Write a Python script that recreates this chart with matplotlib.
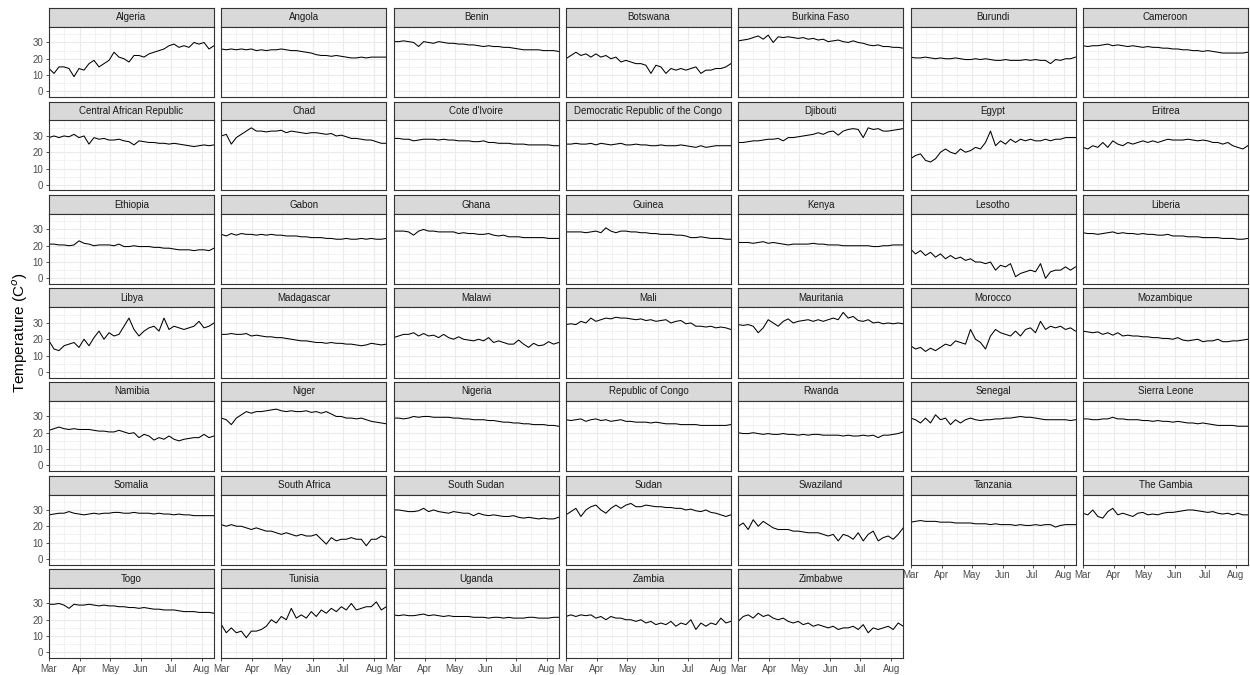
import matplotlib
matplotlib.use("Agg")
import matplotlib.pyplot as plt
import matplotlib.dates as mdates
import numpy as np
import pandas as pd

# mean temperature per country, one reading every 5 days from 1 March
algeria = [14,11,15,15,14,9,14,13,17,19,15,17,19,24,21,20,18,22,22,21,23,24,25,26,28,29,27,28,27,30,29,30,26,28]
angola = [26,25.5,26,25.5,26,25.5,26,25,25.5,25,25.5,25.5,26,25.5,25,25,24.5,24,23.5,22.5,22,22,21.5,22,21.5,21,20.5,20.5,21,20.5,21,21,21,21]
benin = [30.5,30.5,31,30.5,30,27.5,30.5,30,29.5,30.5,30,29.5,29.5,29,29,28.5,28.5,28,27.5,28,27.5,27.5,27,27,26.5,26,25.5,25.5,25.5,25.5,25,25,25,24.5]
botswana = [20,22,24,22,23,21,23,21,22,20,21,18,19,18,17,17,16,11,16,15,11,14,13,14,13,14,15,11,13,13,14,14,15,17]
burkina_faso = [31,31.5,32,33,34,32,34.5,30,33.5,33,33.5,33,32.5,33,32,32.5,31.5,32,30.5,31,31.5,30.5,30,31,30,29.5,28.5,28,28.5,27.5,27.5,27,27,26.5]
burundi = [21,20.5,20.5,21,20.5,20,20.5,20,20,20.5,20,19.5,19.5,20,19.5,20,19.5,19,19,19.5,19,19,19,19.5,19,19.5,19,19,17,19.5,19,20,20,21]
cameroon = [28,27.5,28,28,28.5,29,28,28.5,28,27.5,28,27.5,27,27.5,27,27,26.5,26.5,26,26,25.5,25.5,25,25,24.5,25,24.5,24,23.5,23.5,23.5,23.5,23.5,24]
central_african_republic = [29,30,29,30,29.5,31,29,30,25,29,28,28.5,27.5,27.5,28,27,26.5,24.5,27,26.5,26,26,25.5,25.5,25,25.5,25,24.5,24,23.5,24,24.5,24,24.5]
chad = [30,31,25,29,31,33,35,33,33,32.5,33,33,33.5,32,33,32.5,32,31.5,32,32,31.5,31,31.5,30,30.5,29.5,28.5,28.5,28,27.5,27.5,26.5,25.5,25.5]
cote_divoire = [28.5,28.5,28,28,27,27.5,28,28,28,27.5,28,27.5,27.5,27,27,27,26.5,26.5,27,26,26,25.5,25.5,25.5,25,25,25,24.5,24.5,24.5,24.5,24.5,24,24]
dr_congo = [25,25,25.5,25,25,25.5,24.5,25.5,25,24.5,25,25.5,24.5,24.5,25,24.5,24.5,24,24,24.5,24,24,24,24.5,24,23.5,23,24,23,23.5,24,24,24,24]
djibouti = [26,26,26.5,27,27,27.5,28,28,28.5,27,29,29,29.5,30,30.5,31,32,31,32.5,33,30.5,33,34,34.5,34,29,35,34,34.5,33,33,33.5,34,34.5]
egypt = [16,18,19,15,14,16,20,22,20,19,22,20,21,23,22,26,33,24,27,25,28,26,28,27,28,27,27,28,27,28,28,29,29,29]
eritrea = [23,22,24,23,26,23,27,25,24,26,25,26,27,26,27,26,27,28,27.5,27.5,27.5,28,27.5,27,27.5,27,26,26,25,26,24,23,22,24]
ethiopia = [21,21,20.5,20.5,20,20.5,23,21.5,21,20,20.5,20.5,20.5,20,21,19.5,19.5,20,19.5,19.5,19.5,19,19,18.5,18.5,18,17.5,17.5,17.5,17,17.5,17.5,17,18.5]
gabon = [27,26,27.5,26.5,27.5,27,27,26.5,27,26.5,27,26.5,26.5,26,26,26,25.5,25.5,25,25,25,24.5,24.5,24,24,24.5,24,24,24.5,24,24.5,24,24,24.5]
ghana = [29,29,29,28.5,26.5,29,30,29,29,28.5,28.5,28.5,28.5,27.5,28,27.5,27.5,27,27,27.5,26.5,26,26.5,25.5,25.5,25.5,25,25,25,25,25,24.5,24.5,24.5]
guinea = [28.5,28.5,28.5,28.5,28,28.5,29,28,31,29,28,29,29,28.5,28.5,28,28,27.5,27.5,27,27,27,26.5,26.5,26,25,25,25.5,25,24.5,24.5,24.5,24,24]
kenya = [22,22,22,21.5,22,22.5,21.5,22,21.5,21,20.5,21,21,21,21,21.5,21,21,20.5,20.5,20.5,20,20,20,20,20,20,19.5,19.5,20,20,20.5,20.5,20.5]
lesotho = [18,15,17,14,16,13,15,12,14,12,13,11,12,10,10,9,10,5,8,7,9,1,3,4,5,4,9,0,4,5,5,7,5,7]
liberia = [28,27.5,27.5,27,27.5,28,28.5,27.5,28,27.5,27.5,27,27.5,27,27,26.5,26.5,27,26,26,26,25.5,25.5,25.5,25,25,25,25,24.5,24.5,24.5,24,24,24.5]
libya = [19,14,13,16,17,18,15,20,16,21,25,20,24,22,23,28,33,26,22,25,27,28,25,33,26,28,27,26,27,28,31,27,28,30]
madagascar = [23,23,23.5,23,23,23.5,22,22.5,22,21.5,21.5,21,21,20.5,20,19.5,19,19,18.5,18,18,17.5,18,17.5,17.5,17,17,16.5,16,16.5,17.5,17,16.5,17]
malawi = [21,22,23,23,24,22,23.5,22,22.5,21,23,21,20,21.5,20,19.5,19,20,19,21,18,19,18,17,17,19.5,17,15,17.5,16,16.5,18.5,17,18]
mali = [29,29.5,29,31,30,33,31,32,33,32.5,33.5,33,33,32.5,32,32.5,31.5,32,31,31.5,32,30,31,31.5,29.5,30,28,28,27.5,28,27,27.5,27,26]
mauritania = [29,28.5,29,28,24,27,32,30,28,31,32.5,30,31,31.5,32,31,32,31,32,33,32,36.5,33,34,31.5,31,32,30,30.5,29.5,30,29.5,30,29.5]
morocco = [16,14,15,12.5,14.5,13,15,17,16,19,18,17,26,20,18,14,22,26,24,23,22,25,22,26,27,24,31,26,28,27,28,26,27,25]
mozambique = [25,24.5,24,24.5,23,24,22.5,24,22,22.5,22,22,21.5,21.5,21,21,20.5,20.5,20,21,19.5,19,19.5,20,18.5,19,19,20,18.5,18.5,19,19,19.5,20]
namibia = [21.5,22.5,23.5,22.5,22,22.5,22,22,22,21.5,21,21,20.5,20.5,21.5,20.5,19.5,20,17,19,18,15.5,17,16,18,16,15,16,16.5,17,17,19,17,18]
niger = [29,28,25,29,31,33,32,33,33,33.5,34,34.5,33.5,33,33.5,33,33,33.5,32.5,33,32,33,31.5,30,30,29,29,28.5,29,28,27,26.5,26,25.5]
nigeria = [29,29,28.5,29,30,29.5,30,30,29.5,29.5,29.5,29.5,29,29,28.5,28.5,28,28,28,27.5,27.5,27,26.5,26.5,26,26,25.5,25.5,25,25,25,24.5,24.5,24]
rep_congo = [28,27.5,28,28.5,27,28,28.5,27.5,28,27,27.5,28,27,27,26.5,26.5,26.5,26,26.5,26,25.5,25.5,25.5,25,25,25,25,24.5,24.5,24.5,24.5,24.5,24.5,25]
rwanda = [20,19.5,19.5,20,19.5,19,19.5,19,19,19.5,19,19,18.5,19,18.5,19,19,18.5,18.5,18.5,18.5,18,18.5,18,18,18.5,18,18.5,17,18.5,18.5,19,19.5,20.5]
senegal = [29,28,26,29,26,31,28,29,25,28,26,28,29,28,27.5,28,28,28.5,28.5,29,29,29.5,30,29.5,29.5,29,28.5,28,28,28,28,28,27.5,28]
sierra_leone = [28.5,28.5,28,28,28.5,28.5,29.5,28.5,28.5,28,28,28,27.5,27.5,27,27.5,27,27,26.5,27,26.5,26,26,25.5,26,25.5,25,24.5,24.5,24.5,24.5,24,24,24]
somalia = [27,27.5,28,28,29,28,27.5,27,27.5,28,27.5,28,28,28.5,28.5,28,28,28.5,28,28,28,27.5,28,27.5,27.5,27,27.5,27,27,26.5,26.5,26.5,26.5,26.5]
south_africa = [21,20,21,20,20,19,18,19,18,17,17,16,15,16,15,14,15,14,14,15,12,9,13,11,12,12,13,12,12,8,12,12,14,13]
south_sudan = [30,30,29.5,29,29,29.5,31,29,30,29,28.5,28,29,28.5,28,28,26.5,28,27,26.5,27,26.5,26,26,26.5,25.5,25,25.5,25,24.5,25,24.5,24.5,25.5]
sudan = [27,29,31,26,30,32,33,30,28,31,33,31,33,34,32,32,33,32.5,32,32,31.5,31.5,31,31,30,30.5,29.5,29,30,28.5,28,27,26,27]
swaziland = [20,22,18,24,20,23,21,19,18,18,18,17,17,16.5,16,16,16,15,14,15,11,15,14,12,16,11,15,17,11,13,14,12,15,19]
tanzania = [22.5,23,23.5,23,23,23,22.5,22.5,22.5,22,22,22,22,21.5,21.5,21.5,21,21.5,21,21,21,20.5,21,20.5,20.5,21,20.5,21,21,19.5,20.5,21,21,21]
the_gambia = [28,27,30,26,25,29,31,27,28,27,26,28,28.5,27,27.5,27,28,28.5,28.5,29,29.5,30,30,29.5,29,28.5,29,28,27.5,28,27,28,27,27]
togo = [29.5,29.5,30,29,27,29.5,29,29,29.5,29,28.5,29,28.5,28.5,28,28,27.5,27.5,27,27.5,27,26.5,26.5,26,26,26,25.5,25,25,25,24.5,24.5,24.5,24]
tunisia = [17,12,15,12,13,9,13,13,14,16,20,18,22,20,27,21,23,21,25,22,26,24,27,25,28,26,30,26,27,28,28,31,26,28]
uganda = [23,22.5,23,22.5,22.5,23,23.5,22.5,23,22.5,22,22.5,22,22,22,22,21.5,21.5,21.5,21,21.5,21.5,21,21.5,21,21,21,21.5,21.5,21,21,21,21.5,21.5]
zambia = [22,23,22,23,22.5,23,21,22,20,22,21,21,20,20,19,20,18,19,17,18,17,19,16,18,17,20,14,18,16,18,17,21,18,19]
zimbabwe = [19,22,23,21,24,22,23,21,20,21,19,18,19,17,18,16,17,16,15,16,14,15,15,16,14,17,12,15,14,15,16,14,18,16]

countries = ["Algeria", "Angola", "Benin", "Botswana", "Burkina Faso", "Burundi", "Cameroon",
             "Central African Republic", "Chad", "Cote d'Ivoire", "Democratic Republic of the Congo",
             "Djibouti", "Egypt", "Eritrea", "Ethiopia", "Gabon", "Ghana", "Guinea", "Kenya",
             "Lesotho", "Liberia", "Libya", "Madagascar", "Malawi", "Mali", "Mauritania", "Morocco",
             "Mozambique", "Namibia", "Niger", "Nigeria", "Republic of Congo", "Rwanda", "Senegal",
             "Sierra Leone", "Somalia", "South Africa", "South Sudan", "Sudan", "Swaziland",
             "Tanzania", "The Gambia", "Togo", "Tunisia", "Uganda", "Zambia", "Zimbabwe"]
series = [algeria, angola, benin, botswana, burkina_faso, burundi, cameroon,
          central_african_republic, chad, cote_divoire, dr_congo, djibouti, egypt, eritrea,
          ethiopia, gabon, ghana, guinea, kenya, lesotho, liberia,
          libya, madagascar, malawi, mali, mauritania, morocco, mozambique,
          namibia, niger, nigeria, rep_congo, rwanda, senegal, sierra_leone,
          somalia, south_africa, south_sudan, sudan, swaziland, tanzania, the_gambia,
          togo, tunisia, uganda, zambia, zimbabwe]

start = pd.Timestamp("2020-03-01")
end = pd.Timestamp("2020-08-13")

plt.rcParams["font.family"] = ["Liberation Sans", "DejaVu Sans"]

W, H = 1250, 675
fig = plt.figure(figsize=(W / 100, H / 100), dpi=100)

ncol = 7
nrow = 7
x0, dx, pw = 49, 172.3, 165
y0, dy, sh, ph = 8, 93.5, 19, 70
border = "#333333"

def box(left, top, w, h):
    return [left / W, 1 - (top + h) / H, w / W, h / H]

for i, (name, vals) in enumerate(zip(countries, series)):
    r, c = divmod(i, ncol)
    left = x0 + c * dx
    top = y0 + r * dy

    # strip with the country name
    sax = fig.add_axes(box(left, top, pw, sh))
    sax.set_facecolor("#D9D9D9")
    sax.set_xticks([])
    sax.set_yticks([])
    for s in sax.spines.values():
        s.set_color(border)
        s.set_linewidth(0.8)
    sax.text(0.5, 0.5, name, ha="center", va="center", fontsize=7,
             color="#1A1A1A", transform=sax.transAxes)

    ax = fig.add_axes(box(left, top + sh, pw, ph))
    dates = pd.date_range(start, periods=len(vals), freq="5D")
    ax.plot(dates, vals, color="black", lw=0.75)

    ax.set_xlim(start, end)
    ax.set_ylim(-3.5, 39.5)
    ax.xaxis.set_major_locator(mdates.MonthLocator())
    ax.xaxis.set_minor_locator(mdates.MonthLocator(bymonthday=16))
    ax.xaxis.set_major_formatter(mdates.DateFormatter("%b"))
    ax.set_yticks([0, 10, 20, 30])
    ax.set_yticks([5, 15, 25, 35], minor=True)
    ax.grid(which="major", color="#EBEBEB", lw=0.8)
    ax.grid(which="minor", color="#EBEBEB", lw=0.4)
    ax.set_axisbelow(True)
    for s in ax.spines.values():
        s.set_color(border)
        s.set_linewidth(0.8)

    ax.tick_params(which="minor", length=0)
    ax.tick_params(which="major", labelsize=7, labelcolor="#4D4D4D",
                   color=border, length=2.5, width=0.6, pad=1.5)

    bottom_row = (r == nrow - 1) or (i + ncol >= len(countries))
    if not bottom_row:
        ax.tick_params(axis="x", length=0, labelbottom=False)
    if c != 0:
        ax.tick_params(axis="y", length=0, labelleft=False)

fig.text(20 / W, 1 - 333 / H, "Temperature (C$^{o}$)", rotation=90,
         ha="center", va="center", fontsize=11, color="black")

fig.savefig("out.png", dpi=100)
